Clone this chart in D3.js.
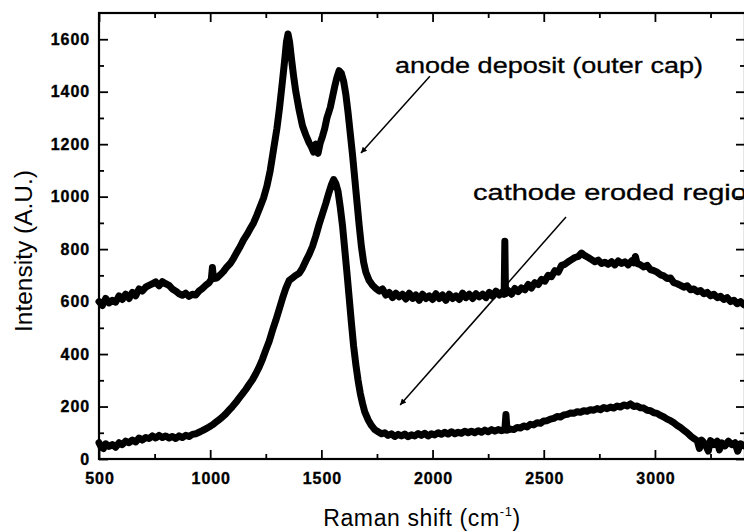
<!DOCTYPE html>
<html><head><meta charset="utf-8">
<script src="https://cdn.jsdelivr.net/npm/d3@7"></script>
<style>
body{margin:0;background:#fff}
svg{display:block}
</style></head><body>
<svg id="c" width="744" height="531"></svg>
<script>
// ---------- data (Raman shift cm^-1, intensity A.U.) ----------
const anode = [
[500,600],[515,585],[530,612],[545,595],[560,605],[575,598],[590,622],[605,608],[620,628],[635,612],
[650,635],[665,622],[680,648],[695,640],[710,655],[725,662],[740,668],[755,675],[770,660],[785,676],
[800,668],[815,662],[830,648],[845,640],[860,630],[875,624],[890,632],[905,620],[920,628],[935,625],
[950,640],[965,650],[980,662],[995,672],[1005,685],[1010,730],[1015,688],[1030,690],[1045,702],[1060,715],
[1075,732],[1090,745],[1105,765],[1120,788],[1135,810],[1150,835],[1165,855],[1180,878],[1195,900],[1210,930],
[1225,962],[1240,995],[1255,1040],[1270,1100],[1285,1180],[1300,1260],[1312,1340],[1325,1440],[1335,1520],[1343,1590],
[1350,1620],[1357,1590],[1365,1530],[1375,1460],[1385,1400],[1400,1330],[1415,1270],[1430,1235],[1445,1205],[1455,1190],
[1465,1170],[1475,1200],[1485,1165],[1495,1205],[1505,1230],[1515,1260],[1525,1300],[1540,1340],[1550,1380],[1560,1420],
[1570,1455],[1580,1480],[1590,1470],[1600,1440],[1610,1390],[1620,1320],[1630,1240],[1640,1160],[1650,1070],[1660,980],
[1670,890],[1680,810],[1690,750],[1700,712],[1715,680],[1730,662],[1745,650],[1760,640],[1775,648],[1790,625],
[1805,635],[1820,615],[1835,632],[1850,618],[1865,628],[1880,610],[1895,632],[1910,612],[1925,625],[1940,605],
[1955,628],[1970,612],[1985,622],[2000,608],[2015,630],[2030,612],[2045,625],[2060,605],[2075,628],[2090,612],
[2105,622],[2120,608],[2135,632],[2150,615],[2165,628],[2180,612],[2195,630],[2210,618],[2225,628],[2240,615],
[2255,635],[2270,620],[2285,640],[2300,625],[2315,638],[2322,628],[2325,830],[2328,630],[2340,642],[2355,628],
[2370,650],[2385,638],[2400,652],[2415,645],[2430,665],[2445,652],[2460,672],[2475,665],[2490,685],[2505,678],
[2520,700],[2535,695],[2550,718],[2565,712],[2580,738],[2595,742],[2610,752],[2625,760],[2640,768],[2655,772],
[2670,785],[2685,775],[2700,768],[2715,760],[2730,752],[2745,758],[2760,745],[2775,750],[2790,742],[2805,752],
[2820,740],[2835,755],[2850,745],[2865,752],[2880,740],[2895,755],[2905,748],[2912,772],[2920,745],[2935,740],
[2950,732],[2965,738],[2980,722],[2995,718],[3010,712],[3025,702],[3040,698],[3055,688],[3070,690],[3085,672],
[3100,668],[3115,662],[3130,655],[3145,660],[3160,645],[3175,648],[3190,638],[3205,642],[3220,630],[3235,635],
[3250,622],[3265,628],[3280,615],[3295,620],[3310,608],[3325,615],[3340,600],[3355,605],[3370,592],[3385,600],[3400,588]
];
const cathode = [
[500,62],[510,45],[520,40],[530,58],[545,48],[560,55],[575,45],[590,62],[605,55],[620,68],
[635,62],[650,72],[665,65],[680,80],[695,72],[710,82],[725,78],[740,88],[755,80],[770,90],
[785,82],[800,88],[815,80],[830,86],[845,78],[860,88],[875,82],[890,90],[905,86],[920,94],
[935,96],[950,102],[965,108],[980,115],[995,122],[1010,130],[1025,140],[1040,150],[1055,160],[1070,172],
[1085,186],[1100,200],[1115,215],[1130,232],[1145,248],[1160,265],[1175,284],[1190,302],[1205,325],[1220,350],
[1235,380],[1250,415],[1265,448],[1280,490],[1295,528],[1310,570],[1325,612],[1340,650],[1355,680],[1370,690],
[1385,700],[1400,708],[1415,728],[1430,755],[1445,780],[1460,810],[1475,850],[1490,895],[1505,935],[1520,975],
[1532,1010],[1545,1045],[1555,1065],[1565,1050],[1575,1020],[1585,960],[1595,890],[1605,800],[1615,710],[1625,615],
[1635,520],[1645,430],[1655,360],[1665,300],[1675,250],[1685,212],[1695,180],[1710,150],[1725,128],[1740,112],
[1755,104],[1770,96],[1785,100],[1800,90],[1815,96],[1830,86],[1845,94],[1860,88],[1875,95],[1890,85],
[1905,92],[1920,88],[1935,97],[1950,90],[1965,98],[1980,88],[1995,96],[2010,92],[2025,100],[2040,94],
[2055,102],[2070,95],[2085,104],[2100,96],[2115,102],[2130,98],[2145,106],[2160,100],[2175,106],[2190,100],
[2205,108],[2220,102],[2235,110],[2250,104],[2265,112],[2280,106],[2295,112],[2310,108],[2325,112],[2330,170],
[2335,110],[2350,114],[2365,112],[2380,120],[2395,118],[2410,126],[2425,122],[2440,132],[2455,130],[2470,138],
[2485,136],[2500,145],[2515,146],[2530,152],[2545,155],[2560,162],[2575,160],[2590,168],[2605,170],[2620,175],
[2635,174],[2650,180],[2665,178],[2680,184],[2695,182],[2710,188],[2725,186],[2740,192],[2755,188],[2770,196],
[2785,192],[2800,198],[2815,194],[2830,202],[2845,198],[2860,206],[2875,202],[2890,210],[2905,200],[2920,202],
[2935,195],[2950,194],[2965,186],[2980,184],[2995,176],[3010,174],[3025,166],[3040,160],[3055,152],[3070,146],
[3085,138],[3100,128],[3115,120],[3130,110],[3145,100],[3160,88],[3175,78],[3190,70],[3200,40],[3210,72],
[3225,58],[3240,30],[3250,70],[3265,55],[3280,68],[3290,35],[3300,62],[3315,50],[3330,68],[3345,55],
[3360,62],[3372,30],[3385,58],[3400,50]
];
const xMajorTicks = [500, 1000, 1500, 2000, 2500, 3000];
const xTickLabels = ["500", "1000", "1500", "2000", "2500", "3000"];
const xMinorTicks = [750, 1250, 1750, 2250, 2750, 3250];
const yMajorTicks = [0, 200, 400, 600, 800, 1000, 1200, 1400, 1600];
const yTickLabels = ["0", "200", "400", "600", "800", "1000", "1200", "1400", "1600"];
const yMinorTicks = [100, 300, 500, 700, 900, 1100, 1300, 1500];
const xDomain = [500, 3405];
const yDomain = [0, 1700];
const annotations = [
  {text: "anode deposit (outer cap)", tx: 1831, ty: 1470, len: 308, from: [1988, 1459], to: [1678, 1166]},
  {text: "cathode eroded region", tx: 2182, ty: 987, len: 290, from: [2600, 922], to: [1854, 206]}
];
const xTitle = "Raman shift (cm";
const xTitleSup = "-1";
const yTitle = "Intensity (A.U.)";

// ---------- layout ----------
const L = 99, R = 745, T = 13, B = 459;
const svg = d3.select("#c");
const x = d3.scaleLinear().domain(xDomain).range([L, R]);
const y = d3.scaleLinear().domain(yDomain).range([B, T]);

const line = d3.line().x(d => x(d[0])).y(d => y(d[1]));
[anode, cathode].forEach(s => {
  svg.append("path").datum(s).attr("d", line)
    .attr("fill", "none").attr("stroke", "#000")
    .attr("stroke-width", 7).attr("stroke-linejoin", "round").attr("stroke-linecap", "round");
});

// axes
const tickFont = g => g.selectAll("text")
  .attr("font-family", "'Liberation Sans', Arial, sans-serif")
  .attr("font-weight", "bold").attr("font-size", "16px")
  .attr("letter-spacing", "0.9px").attr("fill", "#000")
  .attr("stroke", "#000").attr("stroke-width", 0.35);
const clean = g => { g.select(".domain").remove(); g.selectAll("line").attr("stroke", "#000").attr("stroke-width", 1.8); };

svg.append("g").attr("transform", `translate(0,${B})`)
  .call(d3.axisBottom(x).tickValues(xMajorTicks).tickFormat((d, i) => xTickLabels[i]).tickSize(-9).tickPadding(14))
  .call(clean).call(tickFont).selectAll("text").attr("dx", "0.5px");
svg.append("g").attr("transform", `translate(0,${B})`)
  .call(d3.axisBottom(x).tickValues(xMinorTicks).tickFormat("").tickSize(-5)).call(clean);
svg.append("g").attr("transform", `translate(0,${T})`)
  .call(d3.axisTop(x).tickValues(xMajorTicks).tickFormat("").tickSize(-9)).call(clean);
svg.append("g").attr("transform", `translate(0,${T})`)
  .call(d3.axisTop(x).tickValues(xMinorTicks).tickFormat("").tickSize(-5)).call(clean);

svg.append("g").attr("transform", `translate(${L},0)`)
  .call(d3.axisLeft(y).tickValues(yMajorTicks).tickFormat((d, i) => yTickLabels[i]).tickSize(-9).tickPadding(9))
  .call(clean).call(tickFont);
svg.append("g").attr("transform", `translate(${L},0)`)
  .call(d3.axisLeft(y).tickValues(yMinorTicks).tickFormat("").tickSize(-5)).call(clean);
svg.append("g").attr("transform", `translate(${R},0)`)
  .call(d3.axisRight(y).tickValues(yMajorTicks).tickFormat("").tickSize(-9)).call(clean);
svg.append("g").attr("transform", `translate(${R},0)`)
  .call(d3.axisRight(y).tickValues(yMinorTicks).tickFormat("").tickSize(-5)).call(clean);

// frame
svg.append("rect").attr("x", L).attr("y", T).attr("width", R - L).attr("height", B - T)
  .attr("fill", "none").attr("stroke", "#000").attr("stroke-width", 2.2);

// annotations
svg.append("defs").append("marker").attr("id", "ah")
  .attr("viewBox", "0 0 10 10").attr("refX", 10).attr("refY", 5)
  .attr("markerWidth", 9).attr("markerHeight", 6).attr("markerUnits", "userSpaceOnUse")
  .attr("orient", "auto")
  .append("path").attr("d", "M0,0 L10,5 L0,10 z").attr("fill", "#000");
annotations.forEach(a => {
  svg.append("line")
    .attr("x1", x(a.from[0])).attr("y1", y(a.from[1]))
    .attr("x2", x(a.to[0])).attr("y2", y(a.to[1]))
    .attr("stroke", "#000").attr("stroke-width", 1.5).attr("marker-end", "url(#ah)");
  svg.append("text").attr("x", x(a.tx)).attr("y", y(a.ty))
    .attr("font-family", "'Liberation Sans', Arial, sans-serif").attr("font-size", "22px")
    .attr("textLength", a.len).attr("lengthAdjust", "spacingAndGlyphs")
    .attr("stroke", "#000").attr("stroke-width", 0.3)
    .attr("fill", "#000").text(a.text);
});

// axis titles
const xt = svg.append("text").attr("x", (L + R) / 2).attr("y", 526).attr("text-anchor", "middle")
  .attr("font-family", "'Liberation Sans', Arial, sans-serif").attr("font-size", "23px").attr("letter-spacing", "0.6px");
xt.append("tspan").text(xTitle);
xt.append("tspan").attr("font-size", "13px").attr("dy", "-10").text(xTitleSup);
xt.append("tspan").attr("dy", "10").text(")");

svg.append("text").attr("transform", "translate(32,251) rotate(-90)").attr("text-anchor", "middle")
  .attr("font-family", "'Liberation Sans', Arial, sans-serif").attr("font-size", "23px")
  .attr("textLength", 162).attr("lengthAdjust", "spacingAndGlyphs").text(yTitle);
</script>
</body></html>
